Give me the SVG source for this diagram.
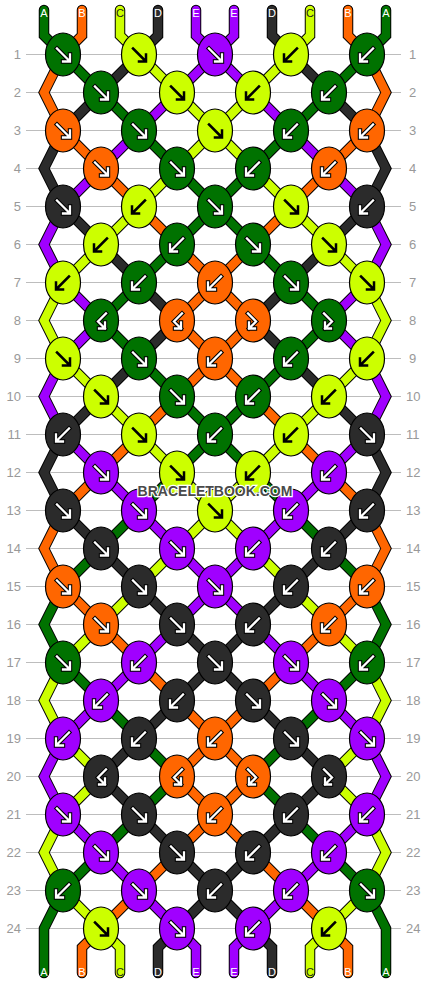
<svg xmlns="http://www.w3.org/2000/svg" xmlns:xlink="http://www.w3.org/1999/xlink" width="430" height="984" viewBox="0 0 430 984">
<style>
.grid{stroke:#bdbdbd;stroke-width:1}
.num{font-family:"Liberation Sans",Arial,sans-serif;font-size:13px;fill:#999}
.lbl{font-family:"Liberation Sans",Arial,sans-serif;font-size:11px;text-anchor:middle}
.o{fill:none;stroke:#000;stroke-width:10.5;stroke-linejoin:miter;stroke-linecap:round}
.t{fill:none;stroke-width:8.5;stroke-linejoin:miter;stroke-linecap:round}
.tA{stroke:#007200}.tB{stroke:#ff6600}.tC{stroke:#ccff00}.tD{stroke:#2b2b2b}.tE{stroke:#a000ff}
.k{stroke:#000;stroke-width:1.2}
.A{fill:#007200}.B{fill:#ff6600}.C{fill:#ccff00}.D{fill:#2b2b2b}.E{fill:#a000ff}
.ao{fill:none;stroke:#000;stroke-width:4.4;stroke-linecap:square}
.aw{fill:none;stroke:#fff;stroke-width:2.3;stroke-linecap:square}
.ab{fill:none;stroke:#000;stroke-width:2.5;stroke-linecap:square}
.wm{font-family:"Liberation Sans",Arial,sans-serif;font-size:14px;font-weight:bold;fill:#4a4a4a;stroke:#fff;stroke-width:2.5;paint-order:stroke;text-anchor:middle}
</style>
<defs>
<path id="pF" d="M-6,-6L6,6M7,0L7,7L0,7"/>
<path id="pH" d="M5,-7L-3,1L4,8M4,2L4,8L-2,8"/>
<ellipse id="kn" rx="17.5" ry="21.5"/>
<g id="wF"><use href="#pF" class="ao"/><use href="#pF" class="aw"/></g>
<g id="wB" transform="scale(-1,1)"><use href="#pF" class="ao"/><use href="#pF" class="aw"/></g>
<g id="kF"><use href="#pF" class="ab"/></g>
<g id="kB" transform="scale(-1,1)"><use href="#pF" class="ab"/></g>
<g id="wBF"><use href="#pH" class="ao"/><use href="#pH" class="aw"/></g>
<g id="wFB" transform="scale(-1,1)"><use href="#pH" class="ao"/><use href="#pH" class="aw"/></g>
<polyline id="s0" points="44,10 44,35.5 63,54.5 101,92.5 139,130.5 177,168.5 215,206.5 253,244.5 291,282.5 329,320.5 291,358.5 253,396.5 215,434.5 177,472.5 139,510.5 101,548.5 63,586.5 44,624.5 63,662.5 101,700.5 139,738.5 177,776.5 139,814.5 101,852.5 63,890.5 44,928.5 44,973"/>
<polyline id="s1" points="82,10 82,35.5 63,54.5 44,92.5 63,130.5 101,168.5 139,206.5 177,244.5 215,282.5 253,320.5 215,358.5 177,396.5 139,434.5 101,472.5 63,510.5 44,548.5 63,586.5 101,624.5 139,662.5 177,700.5 215,738.5 253,776.5 215,814.5 177,852.5 139,890.5 101,928.5 82,947.5 82,973"/>
<polyline id="s2" points="120,10 120,35.5 139,54.5 177,92.5 215,130.5 253,168.5 291,206.5 329,244.5 367,282.5 386,320.5 367,358.5 329,396.5 291,434.5 253,472.5 215,510.5 177,548.5 139,586.5 101,624.5 63,662.5 44,700.5 63,738.5 101,776.5 63,814.5 44,852.5 63,890.5 101,928.5 120,947.5 120,973"/>
<polyline id="s3" points="158,10 158,35.5 139,54.5 101,92.5 63,130.5 44,168.5 63,206.5 101,244.5 139,282.5 177,320.5 139,358.5 101,396.5 63,434.5 44,472.5 63,510.5 101,548.5 139,586.5 177,624.5 215,662.5 253,700.5 291,738.5 329,776.5 291,814.5 253,852.5 215,890.5 177,928.5 158,947.5 158,973"/>
<polyline id="s4" points="196,10 196,35.5 215,54.5 253,92.5 291,130.5 329,168.5 367,206.5 386,244.5 367,282.5 329,320.5 367,358.5 386,396.5 367,434.5 329,472.5 291,510.5 253,548.5 215,586.5 177,624.5 139,662.5 101,700.5 63,738.5 44,776.5 63,814.5 101,852.5 139,890.5 177,928.5 196,947.5 196,973"/>
<polyline id="s5" points="234,10 234,35.5 215,54.5 177,92.5 139,130.5 101,168.5 63,206.5 44,244.5 63,282.5 101,320.5 63,358.5 44,396.5 63,434.5 101,472.5 139,510.5 177,548.5 215,586.5 253,624.5 291,662.5 329,700.5 367,738.5 386,776.5 367,814.5 329,852.5 291,890.5 253,928.5 234,947.5 234,973"/>
<polyline id="s6" points="272,10 272,35.5 291,54.5 329,92.5 367,130.5 386,168.5 367,206.5 329,244.5 291,282.5 253,320.5 291,358.5 329,396.5 367,434.5 386,472.5 367,510.5 329,548.5 291,586.5 253,624.5 215,662.5 177,700.5 139,738.5 101,776.5 139,814.5 177,852.5 215,890.5 253,928.5 272,947.5 272,973"/>
<polyline id="s7" points="310,10 310,35.5 291,54.5 253,92.5 215,130.5 177,168.5 139,206.5 101,244.5 63,282.5 44,320.5 63,358.5 101,396.5 139,434.5 177,472.5 215,510.5 253,548.5 291,586.5 329,624.5 367,662.5 386,700.5 367,738.5 329,776.5 367,814.5 386,852.5 367,890.5 329,928.5 310,947.5 310,973"/>
<polyline id="s8" points="348,10 348,35.5 367,54.5 386,92.5 367,130.5 329,168.5 291,206.5 253,244.5 215,282.5 177,320.5 215,358.5 253,396.5 291,434.5 329,472.5 367,510.5 386,548.5 367,586.5 329,624.5 291,662.5 253,700.5 215,738.5 177,776.5 215,814.5 253,852.5 291,890.5 329,928.5 348,947.5 348,973"/>
<polyline id="s9" points="386,10 386,35.5 367,54.5 329,92.5 291,130.5 253,168.5 215,206.5 177,244.5 139,282.5 101,320.5 139,358.5 177,396.5 215,434.5 253,472.5 291,510.5 329,548.5 367,586.5 386,624.5 367,662.5 329,700.5 291,738.5 253,776.5 291,814.5 329,852.5 367,890.5 386,928.5 386,973"/>
</defs>
<rect width="430" height="984" fill="#fff"/>
<g id="rows">
<g class="grid">
<line x1="26" x2="401" y1="54.5" y2="54.5"/><line x1="26" x2="401" y1="92.5" y2="92.5"/><line x1="26" x2="401" y1="130.5" y2="130.5"/><line x1="26" x2="401" y1="168.5" y2="168.5"/><line x1="26" x2="401" y1="206.5" y2="206.5"/><line x1="26" x2="401" y1="244.5" y2="244.5"/><line x1="26" x2="401" y1="282.5" y2="282.5"/><line x1="26" x2="401" y1="320.5" y2="320.5"/><line x1="26" x2="401" y1="358.5" y2="358.5"/><line x1="26" x2="401" y1="396.5" y2="396.5"/><line x1="26" x2="401" y1="434.5" y2="434.5"/><line x1="26" x2="401" y1="472.5" y2="472.5"/><line x1="26" x2="401" y1="510.5" y2="510.5"/><line x1="26" x2="401" y1="548.5" y2="548.5"/><line x1="26" x2="401" y1="586.5" y2="586.5"/><line x1="26" x2="401" y1="624.5" y2="624.5"/><line x1="26" x2="401" y1="662.5" y2="662.5"/><line x1="26" x2="401" y1="700.5" y2="700.5"/><line x1="26" x2="401" y1="738.5" y2="738.5"/><line x1="26" x2="401" y1="776.5" y2="776.5"/><line x1="26" x2="401" y1="814.5" y2="814.5"/><line x1="26" x2="401" y1="852.5" y2="852.5"/><line x1="26" x2="401" y1="890.5" y2="890.5"/><line x1="26" x2="401" y1="928.5" y2="928.5"/>
</g>
<g class="num" text-anchor="end">
<text x="21" y="59">1</text><text x="21" y="97">2</text><text x="21" y="135">3</text><text x="21" y="173">4</text><text x="21" y="211">5</text><text x="21" y="249">6</text><text x="21" y="287">7</text><text x="21" y="325">8</text><text x="21" y="363">9</text><text x="21" y="401">10</text><text x="21" y="439">11</text><text x="21" y="477">12</text><text x="21" y="515">13</text><text x="21" y="553">14</text><text x="21" y="591">15</text><text x="21" y="629">16</text><text x="21" y="667">17</text><text x="21" y="705">18</text><text x="21" y="743">19</text><text x="21" y="781">20</text><text x="21" y="819">21</text><text x="21" y="857">22</text><text x="21" y="895">23</text><text x="21" y="933">24</text>
</g>
<g class="num" text-anchor="start">
<text x="409" y="59">1</text><text x="409" y="97">2</text><text x="409" y="135">3</text><text x="409" y="173">4</text><text x="409" y="211">5</text><text x="409" y="249">6</text><text x="409" y="287">7</text><text x="409" y="325">8</text><text x="409" y="363">9</text><text x="406" y="401">10</text><text x="406" y="439">11</text><text x="406" y="477">12</text><text x="406" y="515">13</text><text x="406" y="553">14</text><text x="406" y="591">15</text><text x="406" y="629">16</text><text x="406" y="667">17</text><text x="406" y="705">18</text><text x="406" y="743">19</text><text x="406" y="781">20</text><text x="406" y="819">21</text><text x="406" y="857">22</text><text x="406" y="895">23</text><text x="406" y="933">24</text>
</g>
</g>
<g id="connectors">
<use href="#s0" class="o"/><use href="#s0" class="t tA"/>
<use href="#s1" class="o"/><use href="#s1" class="t tB"/>
<use href="#s2" class="o"/><use href="#s2" class="t tC"/>
<use href="#s3" class="o"/><use href="#s3" class="t tD"/>
<use href="#s4" class="o"/><use href="#s4" class="t tE"/>
<use href="#s5" class="o"/><use href="#s5" class="t tE"/>
<use href="#s6" class="o"/><use href="#s6" class="t tD"/>
<use href="#s7" class="o"/><use href="#s7" class="t tC"/>
<use href="#s8" class="o"/><use href="#s8" class="t tB"/>
<use href="#s9" class="o"/><use href="#s9" class="t tA"/>
</g>
<g id="labels">
<text class="lbl" x="44" y="17" fill="#fff">A</text><text class="lbl" x="82" y="17" fill="#fff">B</text><text class="lbl" x="120" y="17" fill="#222">C</text><text class="lbl" x="158" y="17" fill="#fff">D</text><text class="lbl" x="196" y="17" fill="#fff">E</text><text class="lbl" x="234" y="17" fill="#fff">E</text><text class="lbl" x="272" y="17" fill="#fff">D</text><text class="lbl" x="310" y="17" fill="#222">C</text><text class="lbl" x="348" y="17" fill="#fff">B</text><text class="lbl" x="386" y="17" fill="#fff">A</text>
<text class="lbl" x="44" y="976" fill="#fff">A</text><text class="lbl" x="82" y="976" fill="#fff">B</text><text class="lbl" x="120" y="976" fill="#222">C</text><text class="lbl" x="158" y="976" fill="#fff">D</text><text class="lbl" x="196" y="976" fill="#fff">E</text><text class="lbl" x="234" y="976" fill="#fff">E</text><text class="lbl" x="272" y="976" fill="#fff">D</text><text class="lbl" x="310" y="976" fill="#222">C</text><text class="lbl" x="348" y="976" fill="#fff">B</text><text class="lbl" x="386" y="976" fill="#fff">A</text>
</g>
<g id="knots">
<g id="k1-1" transform="translate(63 54.5)"><use href="#kn" class="k A"/><use href="#wF"/></g>
<g id="k1-2" transform="translate(139 54.5)"><use href="#kn" class="k C"/><use href="#kF"/></g>
<g id="k1-3" transform="translate(215 54.5)"><use href="#kn" class="k E"/><use href="#wF"/></g>
<g id="k1-4" transform="translate(291 54.5)"><use href="#kn" class="k C"/><use href="#kB"/></g>
<g id="k1-5" transform="translate(367 54.5)"><use href="#kn" class="k A"/><use href="#wB"/></g>
<g id="k2-1" transform="translate(101 92.5)"><use href="#kn" class="k A"/><use href="#wF"/></g>
<g id="k2-2" transform="translate(177 92.5)"><use href="#kn" class="k C"/><use href="#kF"/></g>
<g id="k2-3" transform="translate(253 92.5)"><use href="#kn" class="k C"/><use href="#kB"/></g>
<g id="k2-4" transform="translate(329 92.5)"><use href="#kn" class="k A"/><use href="#wB"/></g>
<g id="k3-1" transform="translate(63 130.5)"><use href="#kn" class="k B"/><use href="#wF"/></g>
<g id="k3-2" transform="translate(139 130.5)"><use href="#kn" class="k A"/><use href="#wF"/></g>
<g id="k3-3" transform="translate(215 130.5)"><use href="#kn" class="k C"/><use href="#kF"/></g>
<g id="k3-4" transform="translate(291 130.5)"><use href="#kn" class="k A"/><use href="#wB"/></g>
<g id="k3-5" transform="translate(367 130.5)"><use href="#kn" class="k B"/><use href="#wB"/></g>
<g id="k4-1" transform="translate(101 168.5)"><use href="#kn" class="k B"/><use href="#wF"/></g>
<g id="k4-2" transform="translate(177 168.5)"><use href="#kn" class="k A"/><use href="#wF"/></g>
<g id="k4-3" transform="translate(253 168.5)"><use href="#kn" class="k A"/><use href="#wB"/></g>
<g id="k4-4" transform="translate(329 168.5)"><use href="#kn" class="k B"/><use href="#wB"/></g>
<g id="k5-1" transform="translate(63 206.5)"><use href="#kn" class="k D"/><use href="#wF"/></g>
<g id="k5-2" transform="translate(139 206.5)"><use href="#kn" class="k C"/><use href="#kB"/></g>
<g id="k5-3" transform="translate(215 206.5)"><use href="#kn" class="k A"/><use href="#wF"/></g>
<g id="k5-4" transform="translate(291 206.5)"><use href="#kn" class="k C"/><use href="#kF"/></g>
<g id="k5-5" transform="translate(367 206.5)"><use href="#kn" class="k D"/><use href="#wB"/></g>
<g id="k6-1" transform="translate(101 244.5)"><use href="#kn" class="k C"/><use href="#kB"/></g>
<g id="k6-2" transform="translate(177 244.5)"><use href="#kn" class="k A"/><use href="#wB"/></g>
<g id="k6-3" transform="translate(253 244.5)"><use href="#kn" class="k A"/><use href="#wF"/></g>
<g id="k6-4" transform="translate(329 244.5)"><use href="#kn" class="k C"/><use href="#kF"/></g>
<g id="k7-1" transform="translate(63 282.5)"><use href="#kn" class="k C"/><use href="#kB"/></g>
<g id="k7-2" transform="translate(139 282.5)"><use href="#kn" class="k A"/><use href="#wB"/></g>
<g id="k7-3" transform="translate(215 282.5)"><use href="#kn" class="k B"/><use href="#wB"/></g>
<g id="k7-4" transform="translate(291 282.5)"><use href="#kn" class="k A"/><use href="#wF"/></g>
<g id="k7-5" transform="translate(367 282.5)"><use href="#kn" class="k C"/><use href="#kF"/></g>
<g id="k8-1" transform="translate(101 320.5)"><use href="#kn" class="k A"/><use href="#wBF"/></g>
<g id="k8-2" transform="translate(177 320.5)"><use href="#kn" class="k B"/><use href="#wBF"/></g>
<g id="k8-3" transform="translate(253 320.5)"><use href="#kn" class="k B"/><use href="#wFB"/></g>
<g id="k8-4" transform="translate(329 320.5)"><use href="#kn" class="k A"/><use href="#wFB"/></g>
<g id="k9-1" transform="translate(63 358.5)"><use href="#kn" class="k C"/><use href="#kF"/></g>
<g id="k9-2" transform="translate(139 358.5)"><use href="#kn" class="k A"/><use href="#wF"/></g>
<g id="k9-3" transform="translate(215 358.5)"><use href="#kn" class="k B"/><use href="#wB"/></g>
<g id="k9-4" transform="translate(291 358.5)"><use href="#kn" class="k A"/><use href="#wB"/></g>
<g id="k9-5" transform="translate(367 358.5)"><use href="#kn" class="k C"/><use href="#kB"/></g>
<g id="k10-1" transform="translate(101 396.5)"><use href="#kn" class="k C"/><use href="#kF"/></g>
<g id="k10-2" transform="translate(177 396.5)"><use href="#kn" class="k A"/><use href="#wF"/></g>
<g id="k10-3" transform="translate(253 396.5)"><use href="#kn" class="k A"/><use href="#wB"/></g>
<g id="k10-4" transform="translate(329 396.5)"><use href="#kn" class="k C"/><use href="#kB"/></g>
<g id="k11-1" transform="translate(63 434.5)"><use href="#kn" class="k D"/><use href="#wB"/></g>
<g id="k11-2" transform="translate(139 434.5)"><use href="#kn" class="k C"/><use href="#kF"/></g>
<g id="k11-3" transform="translate(215 434.5)"><use href="#kn" class="k A"/><use href="#wB"/></g>
<g id="k11-4" transform="translate(291 434.5)"><use href="#kn" class="k C"/><use href="#kB"/></g>
<g id="k11-5" transform="translate(367 434.5)"><use href="#kn" class="k D"/><use href="#wF"/></g>
<g id="k12-1" transform="translate(101 472.5)"><use href="#kn" class="k E"/><use href="#wF"/></g>
<g id="k12-2" transform="translate(177 472.5)"><use href="#kn" class="k C"/><use href="#kF"/></g>
<g id="k12-3" transform="translate(253 472.5)"><use href="#kn" class="k C"/><use href="#kB"/></g>
<g id="k12-4" transform="translate(329 472.5)"><use href="#kn" class="k E"/><use href="#wB"/></g>
<g id="k13-1" transform="translate(63 510.5)"><use href="#kn" class="k D"/><use href="#wF"/></g>
<g id="k13-2" transform="translate(139 510.5)"><use href="#kn" class="k E"/><use href="#wF"/></g>
<g id="k13-3" transform="translate(215 510.5)"><use href="#kn" class="k C"/><use href="#kF"/></g>
<g id="k13-4" transform="translate(291 510.5)"><use href="#kn" class="k E"/><use href="#wB"/></g>
<g id="k13-5" transform="translate(367 510.5)"><use href="#kn" class="k D"/><use href="#wB"/></g>
<g id="k14-1" transform="translate(101 548.5)"><use href="#kn" class="k D"/><use href="#wF"/></g>
<g id="k14-2" transform="translate(177 548.5)"><use href="#kn" class="k E"/><use href="#wF"/></g>
<g id="k14-3" transform="translate(253 548.5)"><use href="#kn" class="k E"/><use href="#wB"/></g>
<g id="k14-4" transform="translate(329 548.5)"><use href="#kn" class="k D"/><use href="#wB"/></g>
<g id="k15-1" transform="translate(63 586.5)"><use href="#kn" class="k B"/><use href="#wF"/></g>
<g id="k15-2" transform="translate(139 586.5)"><use href="#kn" class="k D"/><use href="#wF"/></g>
<g id="k15-3" transform="translate(215 586.5)"><use href="#kn" class="k E"/><use href="#wF"/></g>
<g id="k15-4" transform="translate(291 586.5)"><use href="#kn" class="k D"/><use href="#wB"/></g>
<g id="k15-5" transform="translate(367 586.5)"><use href="#kn" class="k B"/><use href="#wB"/></g>
<g id="k16-1" transform="translate(101 624.5)"><use href="#kn" class="k B"/><use href="#wF"/></g>
<g id="k16-2" transform="translate(177 624.5)"><use href="#kn" class="k D"/><use href="#wF"/></g>
<g id="k16-3" transform="translate(253 624.5)"><use href="#kn" class="k D"/><use href="#wB"/></g>
<g id="k16-4" transform="translate(329 624.5)"><use href="#kn" class="k B"/><use href="#wB"/></g>
<g id="k17-1" transform="translate(63 662.5)"><use href="#kn" class="k A"/><use href="#wF"/></g>
<g id="k17-2" transform="translate(139 662.5)"><use href="#kn" class="k E"/><use href="#wB"/></g>
<g id="k17-3" transform="translate(215 662.5)"><use href="#kn" class="k D"/><use href="#wF"/></g>
<g id="k17-4" transform="translate(291 662.5)"><use href="#kn" class="k E"/><use href="#wF"/></g>
<g id="k17-5" transform="translate(367 662.5)"><use href="#kn" class="k A"/><use href="#wB"/></g>
<g id="k18-1" transform="translate(101 700.5)"><use href="#kn" class="k E"/><use href="#wB"/></g>
<g id="k18-2" transform="translate(177 700.5)"><use href="#kn" class="k D"/><use href="#wB"/></g>
<g id="k18-3" transform="translate(253 700.5)"><use href="#kn" class="k D"/><use href="#wF"/></g>
<g id="k18-4" transform="translate(329 700.5)"><use href="#kn" class="k E"/><use href="#wF"/></g>
<g id="k19-1" transform="translate(63 738.5)"><use href="#kn" class="k E"/><use href="#wB"/></g>
<g id="k19-2" transform="translate(139 738.5)"><use href="#kn" class="k D"/><use href="#wB"/></g>
<g id="k19-3" transform="translate(215 738.5)"><use href="#kn" class="k B"/><use href="#wB"/></g>
<g id="k19-4" transform="translate(291 738.5)"><use href="#kn" class="k D"/><use href="#wF"/></g>
<g id="k19-5" transform="translate(367 738.5)"><use href="#kn" class="k E"/><use href="#wF"/></g>
<g id="k20-1" transform="translate(101 776.5)"><use href="#kn" class="k D"/><use href="#wBF"/></g>
<g id="k20-2" transform="translate(177 776.5)"><use href="#kn" class="k B"/><use href="#wBF"/></g>
<g id="k20-3" transform="translate(253 776.5)"><use href="#kn" class="k B"/><use href="#wFB"/></g>
<g id="k20-4" transform="translate(329 776.5)"><use href="#kn" class="k D"/><use href="#wFB"/></g>
<g id="k21-1" transform="translate(63 814.5)"><use href="#kn" class="k E"/><use href="#wF"/></g>
<g id="k21-2" transform="translate(139 814.5)"><use href="#kn" class="k D"/><use href="#wF"/></g>
<g id="k21-3" transform="translate(215 814.5)"><use href="#kn" class="k B"/><use href="#wB"/></g>
<g id="k21-4" transform="translate(291 814.5)"><use href="#kn" class="k D"/><use href="#wB"/></g>
<g id="k21-5" transform="translate(367 814.5)"><use href="#kn" class="k E"/><use href="#wB"/></g>
<g id="k22-1" transform="translate(101 852.5)"><use href="#kn" class="k E"/><use href="#wF"/></g>
<g id="k22-2" transform="translate(177 852.5)"><use href="#kn" class="k D"/><use href="#wF"/></g>
<g id="k22-3" transform="translate(253 852.5)"><use href="#kn" class="k D"/><use href="#wB"/></g>
<g id="k22-4" transform="translate(329 852.5)"><use href="#kn" class="k E"/><use href="#wB"/></g>
<g id="k23-1" transform="translate(63 890.5)"><use href="#kn" class="k A"/><use href="#wB"/></g>
<g id="k23-2" transform="translate(139 890.5)"><use href="#kn" class="k E"/><use href="#wF"/></g>
<g id="k23-3" transform="translate(215 890.5)"><use href="#kn" class="k D"/><use href="#wB"/></g>
<g id="k23-4" transform="translate(291 890.5)"><use href="#kn" class="k E"/><use href="#wB"/></g>
<g id="k23-5" transform="translate(367 890.5)"><use href="#kn" class="k A"/><use href="#wF"/></g>
<g id="k24-1" transform="translate(101 928.5)"><use href="#kn" class="k C"/><use href="#kF"/></g>
<g id="k24-2" transform="translate(177 928.5)"><use href="#kn" class="k E"/><use href="#wF"/></g>
<g id="k24-3" transform="translate(253 928.5)"><use href="#kn" class="k E"/><use href="#wB"/></g>
<g id="k24-4" transform="translate(329 928.5)"><use href="#kn" class="k C"/><use href="#kB"/></g>
</g>
<text class="wm" x="215" y="496">BRACELETBOOK.COM</text>
</svg>
